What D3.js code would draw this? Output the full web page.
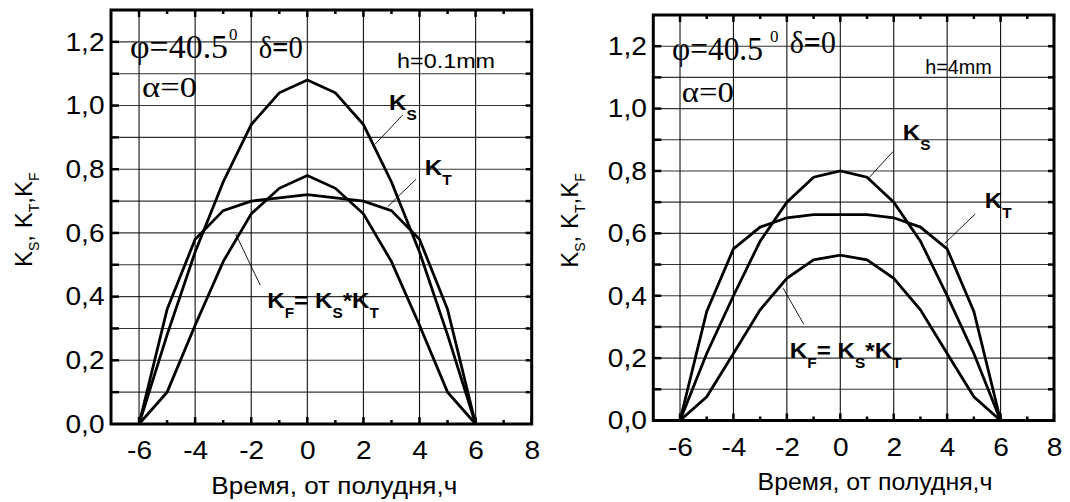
<!DOCTYPE html>
<html>
<head>
<meta charset="utf-8">
<script src="https://cdn.jsdelivr.net/npm/d3@7"></script>
<style>
  body { margin: 0; background: #fff; }
  svg { display: block; }
</style>
</head>
<body>
<svg id="chart" width="1070" height="502"></svg>
<script>
// hours from solar noon
var hours = [-6, -5, -4, -3, -2, -1, 0, 1, 2, 3, 4, 5, 6];

// h = 0.1 mm
var ksThin = [0, 0.28, 0.54, 0.76, 0.94, 1.04, 1.08, 1.04, 0.94, 0.76, 0.54, 0.28, 0];
var ktThin = [0, 0.36, 0.58, 0.67, 0.70, 0.71, 0.72, 0.71, 0.70, 0.67, 0.58, 0.36, 0];
var kfThin = [0, 0.10, 0.31, 0.51, 0.66, 0.74, 0.78, 0.74, 0.66, 0.51, 0.31, 0.10, 0];

// h = 4 mm
var ksThick = [0, 0.215, 0.40, 0.575, 0.70, 0.78, 0.80, 0.78, 0.70, 0.575, 0.40, 0.215, 0];
var ktThick = [0, 0.35, 0.55, 0.62, 0.65, 0.66, 0.66, 0.66, 0.65, 0.62, 0.55, 0.35, 0];
var kfThick = [0, 0.076, 0.215, 0.355, 0.456, 0.515, 0.53, 0.515, 0.456, 0.355, 0.215, 0.076, 0];

var xTicks = [-6, -4, -2, 0, 2, 4, 6, 8];
var yTicks = [0, 0.2, 0.4, 0.6, 0.8, 1.0, 1.2];
var xTitle = "Время, от полудня,ч";

var svg = d3.select("#chart");
var sans = "Arial, 'Liberation Sans', sans-serif";
var serif = "'Times New Roman', 'Liberation Serif', serif";
var commaFmt = d3.formatLocale({decimal: ",", thousands: " ", grouping: [3], currency: ["", ""], minus: "-"}).format(".1f");

var panels = [
  {
    box: {l: 111, r: 531.7, t: 10, b: 424},
    ks: ksThin, kt: ktThin, kf: kfThin, h: "h=0.1mm",
    phi: [-6.32, 1.148, 98], supGap: 1, delta: [-1.73, 1.148, 44], alpha: [-5.89, 1.028, 55], hPos: [3.20, 1.117, 98],
    ksLab: [2.91, 0.986], ksLine: [[3.40, 0.970], [2.42, 0.879]],
    ktLab: [4.19, 0.782], ktLine: [[3.88, 0.769], [2.86, 0.682]],
    kfLab: [-1.43, 0.363], kfLine: [[-1.68, 0.436], [-2.55, 0.596]],
    yTitleX: 32, xTitleBase: 494, xTitleLen: 246, xTitleC: 0.96
  },
  {
    box: {l: 653.3, r: 1054, t: 15, b: 420.5},
    ks: ksThick, kt: ktThick, kf: kfThick, h: "h=4mm",
    phi: [-6.30, 1.155, 91], supGap: 7, delta: [-1.89, 1.178, 46], alpha: [-5.93, 1.022, 52], hPos: [3.18, 1.11, 66.6],
    ksLab: [2.34, 0.899], ksLine: [[1.97, 0.862], [1.07, 0.778]],
    ktLab: [5.41, 0.68], ktLine: [[5.05, 0.662], [3.91, 0.568]],
    kfLab: [-1.89, 0.199], kfLine: [[-1.37, 0.309], [-2.14, 0.424]],
    yTitleX: 578, xTitleBase: 490, xTitleLen: 235, xTitleC: 1.3
  }
];

panels.forEach(drawPanel);

function drawPanel(p) {
  var x = d3.scaleLinear().domain([-7, 8]).range([p.box.l, p.box.r]);
  var y = d3.scaleLinear().domain([0, 1.3]).range([p.box.b, p.box.t]);
  var g = svg.append("g");

  var xGrid = d3.range(-6, 7, 2);
  var xMinor = d3.range(-5, 8, 2);
  var yGrid = d3.range(1, 13).map(function(i) { return i / 10; });

  // grid
  g.selectAll(".hg").data(yGrid).join("line")
    .attr("x1", x(-7)).attr("x2", x(8))
    .attr("y1", function(d) { return y(d); }).attr("y2", function(d) { return y(d); })
    .attr("stroke", "#333").attr("stroke-width", 1.1);
  g.selectAll(".vg").data(xGrid).join("line")
    .attr("y1", y(0)).attr("y2", y(1.3))
    .attr("x1", function(d) { return x(d); }).attr("x2", function(d) { return x(d); })
    .attr("stroke", "#111").attr("stroke-width", 1.1);

  // inward ticks
  var tk = g.append("g").attr("stroke", "#000").attr("stroke-width", 2.5);
  xGrid.concat([8]).forEach(function(d) {
    tk.append("line").attr("x1", x(d)).attr("x2", x(d)).attr("y1", y(0)).attr("y2", y(0) - 7);
    tk.append("line").attr("x1", x(d)).attr("x2", x(d)).attr("y1", y(1.3)).attr("y2", y(1.3) + 7);
  });
  xMinor.forEach(function(d) {
    tk.append("line").attr("x1", x(d)).attr("x2", x(d)).attr("y1", y(0)).attr("y2", y(0) - 4);
    tk.append("line").attr("x1", x(d)).attr("x2", x(d)).attr("y1", y(1.3)).attr("y2", y(1.3) + 4);
  });
  yGrid.forEach(function(d) {
    tk.append("line").attr("x1", x(-7)).attr("x2", x(-7) + 8).attr("y1", y(d)).attr("y2", y(d));
    tk.append("line").attr("x1", x(8)).attr("x2", x(8) - 6).attr("y1", y(d)).attr("y2", y(d));
  });

  // frame
  g.append("rect")
    .attr("x", x(-7)).attr("y", y(1.3))
    .attr("width", x(8) - x(-7)).attr("height", y(0) - y(1.3))
    .attr("fill", "none").attr("stroke", "#000").attr("stroke-width", 3);

  // axes labels
  var ya = g.append("g").attr("transform", "translate(" + x(-7) + ",0)")
    .call(d3.axisLeft(y).tickValues(yTicks).tickFormat(commaFmt).tickSize(0).tickPadding(6));
  var xa = g.append("g").attr("transform", "translate(0," + y(0) + ")")
    .call(d3.axisBottom(x).tickValues(xTicks).tickFormat(function(d) { return String(d); }).tickSize(0).tickPadding(17));
  [ya, xa].forEach(function(a) {
    a.select(".domain").remove();
    a.selectAll("text").attr("font-family", sans).attr("font-size", 26).attr("fill", "#000")
      .attr("transform", "scale(1.08,1)");
  });

  // curves
  var line = d3.line()
    .x(function(d, i) { return x(hours[i]); })
    .y(function(d) { return y(d); });
  [p.ks, p.kt, p.kf].forEach(function(s) {
    g.append("path").datum(s).attr("d", line)
      .attr("fill", "none").attr("stroke", "#000").attr("stroke-width", 2.8);
  });

  // leader lines
  [p.ksLine, p.ktLine, p.kfLine].forEach(function(l) {
    g.append("line")
      .attr("x1", x(l[0][0])).attr("y1", y(l[0][1]))
      .attr("x2", x(l[1][0])).attr("y2", y(l[1][1]))
      .attr("stroke", "#000").attr("stroke-width", 0.9);
  });

  // serif annotations
  g.append("text").attr("x", x(p.phi[0])).attr("y", y(p.phi[1]))
    .attr("font-family", serif).attr("font-size", 34)
    .attr("textLength", p.phi[2]).attr("lengthAdjust", "spacingAndGlyphs")
    .text("φ=40.5");
  g.append("text").attr("x", x(p.phi[0]) + p.phi[2] + p.supGap).attr("y", y(p.phi[1]) - 18)
    .attr("font-family", serif).attr("font-size", 17).text("0");
  var dt = g.append("text").attr("x", x(p.delta[0])).attr("y", y(p.delta[1]))
    .attr("font-family", serif).attr("font-size", 32)
    .attr("textLength", p.delta[2]).attr("lengthAdjust", "spacingAndGlyphs");
  dt.append("tspan").text("δ");
  dt.append("tspan").attr("font-weight", "bold").text("=");
  dt.append("tspan").text("0");
  g.append("text").attr("x", x(p.alpha[0])).attr("y", y(p.alpha[1]))
    .attr("font-family", serif).attr("font-size", 30)
    .attr("textLength", p.alpha[2]).attr("lengthAdjust", "spacingAndGlyphs")
    .text("α=0");
  g.append("text").attr("x", x(p.hPos[0])).attr("y", y(p.hPos[1]))
    .attr("font-family", sans).attr("font-size", 20)
    .attr("textLength", p.hPos[2]).attr("lengthAdjust", "spacingAndGlyphs")
    .text(p.h);

  // K labels
  kLabel(g, x(p.ksLab[0]), y(p.ksLab[1]), [["K", 0], ["S", 1]]);
  kLabel(g, x(p.ktLab[0]), y(p.ktLab[1]), [["K", 0], ["T", 1]]);
  kLabel(g, x(p.kfLab[0]), y(p.kfLab[1]),
    [["K", 0], ["F", 1], ["= K", 0], ["S", 1], ["*K", 0], ["T", 1]]);

  // y title
  var yt = g.append("text")
    .attr("transform", "translate(" + p.yTitleX + "," + (y(0.65) + 50) + ") rotate(-90)")
    .attr("font-family", sans).attr("font-size", 24).attr("fill", "#000");
  [["K", 0], ["S", 1], [", K", 0], ["T", 1], [",K", 0], ["F", 1]].forEach(function(pt, i, arr) {
    var prev = i > 0 ? arr[i - 1][1] : 0;
    yt.append("tspan")
      .attr("font-size", pt[1] ? 14 : 24)
      .attr("dy", (pt[1] - prev) * 7)
      .text(pt[0]);
  });

  // x title
  g.append("text").attr("x", x(p.xTitleC)).attr("y", p.xTitleBase)
    .attr("text-anchor", "middle")
    .attr("font-family", sans).attr("font-size", 23)
    .attr("textLength", p.xTitleLen).attr("lengthAdjust", "spacingAndGlyphs")
    .text(xTitle);
}

function kLabel(g, px, py, parts) {
  var t = g.append("text")
    .attr("transform", "translate(" + px + "," + py + ") scale(1.1,1)")
    .attr("font-family", sans).attr("font-weight", "bold").attr("fill", "#000");
  parts.forEach(function(pt, i) {
    var prev = i > 0 ? parts[i - 1][1] : 0;
    t.append("tspan")
      .attr("font-size", pt[1] ? 14 : 22)
      .attr("dy", (pt[1] - prev) * 10)
      .text(pt[0]);
  });
}
</script>
</body>
</html>
